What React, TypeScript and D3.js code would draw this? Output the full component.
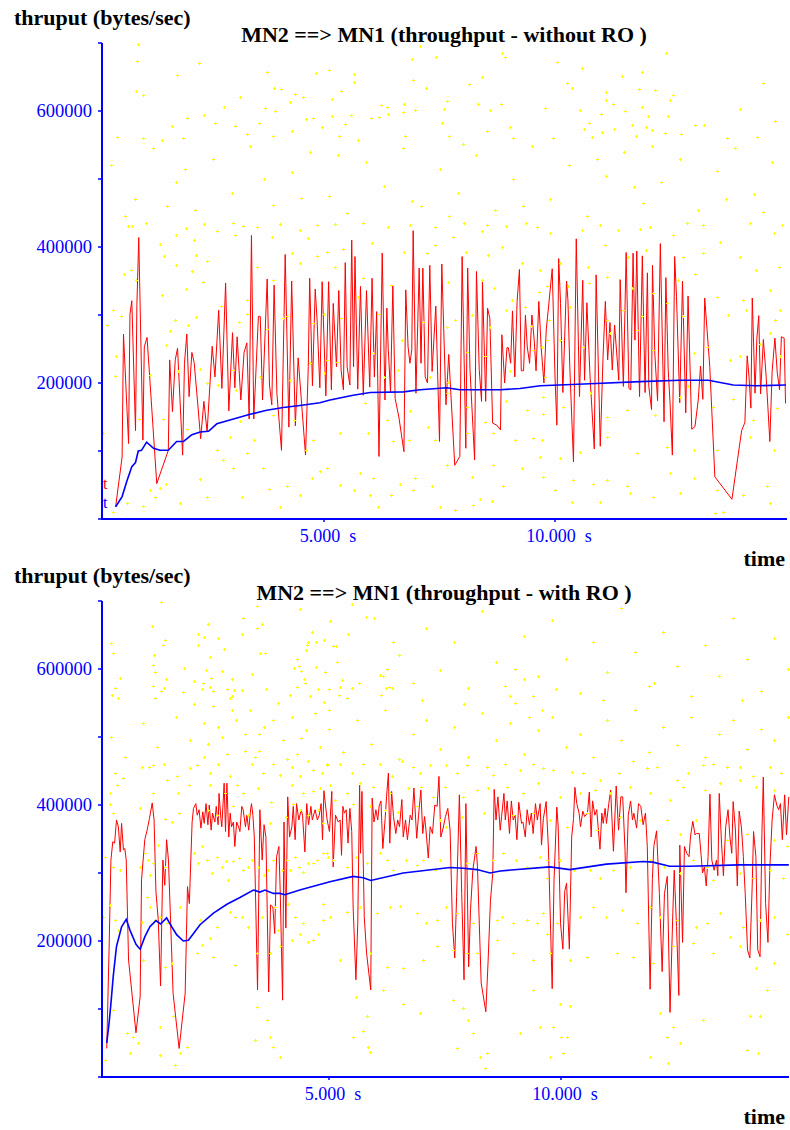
import React from "react";
import * as d3 from "d3";

// all series: [time (s), throughput in thousands of bytes/sec]

// --- without RO ---
const topRed: [number, number][] = [
  [0.49,18],[0.63,91],[0.66,272],[0.77,111],[0.80,301],[0.84,321],[0.92,130],[0.95,314],[0.99,414],[1.08,116],[1.11,253],[1.17,267],[1.38,52],[1.63,101],[1.66,234],[1.72,158],[1.78,234],[1.83,251],[1.94,94],[1.98,229],[2.03,272],[2.08,180],[2.14,245],[2.19,230],[2.26,175],[2.33,118],[2.40,173],[2.47,128],[2.58,254],[2.64,209],[2.72,307],[2.79,192],[2.87,347],[2.94,159],[3.02,274],[3.07,193],[3.12,268],[3.20,175],[3.27,245],[3.33,259],[3.38,147],[3.43,417],[3.48,147],[3.58,298],[3.62,298],[3.67,175],[3.77,353],[3.82,197],[3.87,168],[3.92,344],[3.98,185],[4.08,101],[4.16,389],[4.24,135],[4.30,350],[4.38,137],[4.44,237],[4.60,94],[4.66,224],[4.69,354],[4.75,196],[4.81,338],[4.85,293],[4.91,193],[4.96,349],[5.04,181],[5.10,349],
  [5.16,190],[5.20,317],[5.27,224],[5.32,336],[5.37,219],[5.42,190],[5.46,377],[5.50,224],[5.56,197],[5.60,410],[5.64,224],[5.67,386],[5.73,191],[5.79,342],[5.85,182],[5.92,336],[5.99,194],[6.04,354],[6.09,209],[6.14,305],[6.19,92],[6.26,391],[6.32,175],[6.36,310],[6.39,251],[6.44,187],[6.49,343],[6.54,177],[6.62,150],[6.73,99],[6.77,337],[6.82,253],[6.86,229],[6.90,249],[6.93,424],[6.99,185],[7.06,369],[7.10,229],[7.14,369],[7.19,209],[7.24,200],[7.29,373],[7.34,217],[7.42,313],[7.50,114],[7.55,375],[7.64,168],[7.70,242],[7.83,79],[7.94,92],[7.99,386],[8.07,104],[8.11,369],[8.16,220],[8.26,87],[8.30,364],[8.36,220],[8.41,173],[8.43,350],[8.50,173],[8.54,310],[8.59,295],[8.65,141],[8.74,138],[8.82,131],[8.85,271],[8.91,200],[8.96,252],[8.99,252],[9.04,229],[9.08,306],[9.13,209],[9.18,320],[9.23,367],[9.27,218],[9.32,218],[9.36,300],[9.40,253],[9.45,229],[9.50,300],[9.55,263],[9.59,218],[9.65,320],[9.70,253],[9.76,200],[9.81,278],[9.86,312],
  [9.94,368],[10.00,209],[10.04,138],[10.08,383],[10.12,317],[10.17,186],[10.25,350],[10.28,322],[10.32,224],[10.40,84],[10.46,412],[10.53,180],[10.60,351],[10.64,204],[10.69,318],[10.76,207],[10.85,103],[10.89,359],[10.98,107],[11.04,239],[11.09,320],[11.14,234],[11.19,289],[11.24,219],[11.29,285],[11.38,204],[11.41,352],[11.48,195],[11.54,392],[11.60,192],[11.64,190],[11.69,391],[11.73,263],[11.77,394],[11.83,180],[11.89,387],[11.95,186],[12.00,362],[12.03,195],[12.09,161],[12.11,373],[12.16,244],[12.22,174],[12.28,405],[12.36,143],[12.40,355],[12.45,219],[12.49,171],[12.54,94],[12.59,386],[12.63,327],[12.70,171],[12.76,350],[12.83,156],[12.88,328],[12.96,132],[13.03,136],[13.10,175],[13.15,225],[13.20,176],[13.24,325],[13.35,224],[13.46,62],[13.83,29],[13.95,87],[14.04,130],[14.11,142],[14.16,240],[14.20,209],[14.24,163],[14.27,325],[14.33,185],[14.37,266],[14.41,299],[14.45,184],[14.51,264],[14.57,210],[14.65,114],[14.70,217],[14.76,266],[14.81,216],[14.86,190],[14.90,268],[14.96,266],[14.99,170],
];

const topAvg: [number, number][] = [
  [0.49,18],[0.63,33],[0.73,55],[0.84,77],[0.92,83],[0.98,100],[1.05,101],[1.16,113],[1.31,104],[1.45,101],[1.63,101],[1.81,114],[1.96,114],[2.14,124],[2.32,128],[2.50,129],[2.68,140],[3.04,147],[3.40,154],[3.76,160],[4.12,164],[4.48,167],[4.91,171],[5.13,175],[5.63,182],[6.00,186],[6.72,187],[7.08,190],[7.66,193],[7.94,190],[8.30,190],[8.81,190],[9.24,192],[9.68,196],[10.76,199],[11.84,202],[12.71,204],[13.32,204],[13.86,197],[14.37,196],[15.0,197],
];

const topDots: [number, number][] = [
  [0.98,698],[0.96,674],[2.29,670],[1.81,653],[3.76,658],[4.82,656],[5.11,661],[5.65,654],[5.65,642],[0.93,630],[1.09,624],[3.92,634],[4.07,633],[3.18,621],[4.37,625],[4.55,621],[5.36,630],[5.17,617],[4.26,613],[2.84,606],[3.73,605],[3.93,600],[6.23,609],[6.36,606],[2.40,594],[2.03,590],[4.61,588],[4.77,589],[5.17,592],[5.58,594],[6.01,590],[6.19,591],[6.39,595],[1.72,578],[2.63,582],[3.07,578],[3.59,583],[5.45,581],[4.96,577],[0.51,562],[1.09,560],[1.49,558],[1.95,560],[3.33,566],[3.90,563],[4.30,570],[5.32,563],[5.74,558],
  [7.08,696],[6.90,677],[7.42,680],[8.85,685],[8.92,679],[10.05,672],[10.58,663],[12.40,686],[6.92,646],[7.21,634],[8.14,640],[8.41,650],[10.27,641],[10.37,634],[11.46,651],[11.88,658],[11.82,633],[12.16,631],[12.55,624],[12.48,616],[11.11,628],[11.11,616],[11.26,611],[14.51,641],[6.74,611],[6.72,598],[6.98,601],[7.67,614],[7.59,603],[8.33,611],[8.59,601],[8.83,610],[9.78,605],[10.54,602],[11.00,595],[11.52,600],[11.88,606],[12.01,592],[12.45,593],[14.00,603],[7.56,582],[9.03,577],[10.74,582],[10.62,573],[11.01,569],[11.28,574],[11.66,580],[11.96,576],[12.11,572],[12.38,568],[13.03,580],[13.23,579],[14.76,586],[6.75,563],[7.71,563],[8.53,570],[9.10,561],[9.96,561],[10.81,562],[11.75,563],[12.73,566],[13.72,561],[14.38,562],
  [0.4,520],[0.9,470],[1.3,545],[1.8,495],[2.2,455],[2.6,530],[3.0,480],[3.4,548],[3.9,462],[4.3,510],[4.7,540],[5.1,475],[5.5,450],[5.9,525],[6.3,490],[6.7,545],[7.1,460],[7.5,515],[7.9,480],[8.3,535],[8.7,455],[9.1,500],[9.5,548],[9.9,470],[10.3,520],[10.7,445],[11.1,505],[11.5,540],[11.9,465],[12.3,495],[12.7,530],[13.1,455],[13.5,512],[13.9,545],[14.3,478],[14.7,525],[0.7,445],[2.0,515],[3.7,500],[5.3,535],[6.9,468],[8.0,552],[9.3,460],[10.9,530],[12.1,548],[13.7,470],[14.5,452],[1.6,460],[4.5,472],[7.7,445],[11.7,488],
  [0.84,431],[0.75,431],[1.15,436],[1.46,404],[1.79,417],[2.01,428],[2.19,411],[2.41,434],[2.68,424],[3.07,418],[3.02,435],[3.25,431],[3.54,430],[3.87,415],[4.05,434],[4.48,425],[4.66,413],[4.84,432],[1.54,387],[2.24,388],[2.46,380],[0.67,360],[0.83,366],[0.93,351],[1.49,329],[1.80,373],[2.02,338],[2.14,364],[2.39,349],[3.33,322],[3.54,371],[3.90,351],[4.12,295],[4.30,391],[4.48,377],[4.85,387],[0.44,307],[0.61,298],[0.30,285],[1.77,293],[2.06,286],[1.67,277],[2.24,297],[2.76,313],[3.15,290],[3.33,301],[3.76,280],[4.19,298],[4.77,288],[0.50,240],[0.48,210],[1.23,212],[1.59,256],[1.83,217],[2.32,220],[2.47,200],[2.71,197],[3.04,219],[3.09,189],[3.61,209],[4.26,204],[4.70,229],[4.99,214],[0.22,126],[1.00,147],[1.52,147],[2.03,133],[2.68,102],[2.97,121],[3.18,144],[3.48,116],[3.90,153],[4.34,146],[4.77,116],[1.23,43],[1.34,33],[1.44,45],[1.59,52],[1.88,24],[2.32,59],[2.46,33],[2.82,87],[3.04,75],[3.22,33],[3.69,75],[3.80,44],[4.05,18],[4.19,48],[4.48,35],[4.73,61],[4.91,70],[0.44,10],[0.73,23],[1.09,19],[3.33,97],[4.62,101],
  [5.24,434],[5.85,436],[6.39,430],[6.86,432],[7.40,430],[7.80,415],[8.02,435],[8.52,432],[8.95,431],[9.37,436],[9.60,430],[5.06,393],[5.41,397],[6.03,406],[6.73,392],[7.40,403],[8.07,392],[8.43,424],[8.56,388],[8.85,400],[9.28,376],[9.68,366],[5.24,371],[5.85,354],[6.46,344],[7.22,391],[7.68,349],[8.41,351],[8.67,339],[9.06,322],[9.34,312],[9.66,334],[5.00,302],[5.37,295],[5.74,327],[6.20,302],[6.68,263],[7.15,289],[7.66,283],[7.84,293],[8.20,300],[8.59,283],[8.95,307],[9.47,284],[9.82,263],[5.07,234],[5.29,231],[6.07,244],[6.29,209],[6.61,219],[7.29,209],[7.69,202],[8.09,246],[8.49,239],[9.03,217],[9.53,249],[9.78,209],[5.20,177],[5.89,171],[6.36,146],[6.86,159],[7.26,136],[7.66,185],[8.09,165],[8.49,143],[8.95,173],[9.39,160],[9.73,155],[5.35,126],[5.96,126],[6.50,114],[6.83,116],[7.40,116],[8.09,126],[8.66,126],[9.13,116],[9.53,119],[5.06,75],[5.78,67],[6.07,60],[6.64,52],[6.97,60],[7.33,48],[7.66,79],[8.20,62],[8.66,79],[8.88,48],[9.28,75],[9.68,91],[5.35,50],[5.64,43],[5.99,35],[6.17,18],[6.46,35],[6.93,43],[7.51,18],[7.84,13],[8.23,21],[8.38,30],[8.64,27],
  [9.89,420],[10.58,425],[10.97,432],[11.37,425],[11.84,427],[12.05,430],[12.56,418],[12.85,436],[13.21,432],[13.57,408],[14.22,436],[14.73,420],[14.91,432],[10.11,376],[10.72,371],[11.08,403],[11.59,386],[11.98,396],[12.78,386],[13.21,391],[14.00,386],[14.36,366],[14.84,371],[9.82,342],[10.29,342],[10.74,347],[11.12,356],[11.66,339],[12.13,332],[12.67,351],[13.03,361],[13.50,327],[14.08,322],[14.66,337],[14.86,307],[9.86,293],[10.32,312],[11.12,293],[11.48,307],[11.88,298],[12.42,317],[12.78,298],[13.75,300],[14.13,307],[14.76,293],[14.66,273],[9.71,253],[10.11,263],[10.61,253],[11.19,273],[11.77,278],[12.13,249],[13.00,244],[13.28,253],[13.79,234],[14.00,239],[14.44,258],[14.87,239],[9.75,180],[10.18,165],[10.76,185],[11.12,150],[11.55,160],[12.16,153],[12.70,180],[12.88,195],[13.43,165],[13.86,177],[14.29,146],[14.80,163],[9.71,116],[10.11,89],[10.54,99],[11.12,121],[11.77,97],[12.42,106],[13.00,101],[13.50,101],[14.22,121],[14.73,101],[9.75,62],[10.00,43],[10.40,57],[10.83,52],[11.12,57],[11.55,48],[12.13,33],[12.49,67],[13.00,60],[13.50,43],[14.08,35],[14.58,48],[13.46,9],[13.64,11],[10.36,25],[10.97,25],[11.62,38],[12.70,38],[14.66,23],
];

// --- with RO ---
const botRed: [number, number][] = [
  [0.21,42],[0.26,187],[0.30,319],[0.34,346],[0.38,344],[0.42,378],[0.46,368],[0.50,331],[0.53,373],[0.57,334],[0.60,336],[0.63,319],[0.68,172],[0.84,65],[0.93,118],[0.96,290],[1.03,349],[1.08,363],[1.13,380],[1.19,403],[1.23,378],[1.27,273],[1.32,231],[1.37,134],[1.42,319],[1.46,282],[1.50,349],[1.54,319],[1.64,123],[1.77,42],[1.90,123],[1.95,280],[1.99,255],[2.05,375],[2.08,395],[2.13,402],[2.16,385],[2.20,393],[2.24,366],[2.28,390],[2.31,373],[2.35,402],[2.39,371],[2.42,400],[2.46,363],[2.49,388],[2.54,375],[2.57,398],[2.61,371],[2.63,417],[2.67,380],[2.69,368],[2.74,432],[2.77,361],[2.80,432],[2.84,353],[2.87,388],[2.90,368],[2.94,375],[2.97,339],[3.01,375],[3.05,368],[3.08,361],[3.12,398],[3.15,393],[3.20,368],[3.23,385],[3.27,363],[3.31,393],[3.33,402],[3.36,385],[3.39,353],[3.46,128],[3.51,393],[3.56,319],[3.60,371],[3.64,353],[3.70,125],[3.74,253],[3.79,250],[3.83,211],[3.87,324],[3.92,339],[3.95,270],[4.00,113],[4.03,375],[4.07,219],[4.11,412],[4.15,353],[4.20,368],[4.23,398],[4.27,349],[4.30,402],[4.35,378],[4.40,393],[4.43,385],[4.48,331],[4.52,402],[4.56,371],[4.61,398],[4.64,378],[4.70,393],[4.75,378],[4.79,385],[4.83,402],[4.86,349],[4.89,421],[4.96,378],[5.01,361],
  [5.06,420],[5.09,309],[5.14,385],[5.20,375],[5.24,378],[5.27,326],[5.30,398],[5.33,388],[5.37,393],[5.41,344],[5.45,395],[5.49,361],[5.52,250],[5.58,143],[5.62,226],[5.66,429],[5.68,329],[5.71,420],[5.76,236],[5.81,182],[5.90,128],[5.93,410],[5.97,375],[6.01,393],[6.05,378],[6.08,398],[6.12,406],[6.16,336],[6.21,380],[6.24,412],[6.28,447],[6.31,344],[6.35,420],[6.39,383],[6.44,358],[6.48,378],[6.52,368],[6.57,408],[6.60,353],[6.65,378],[6.69,349],[6.75,385],[6.79,378],[6.83,425],[6.89,351],[6.93,385],[6.98,422],[7.02,358],[7.06,383],[7.09,363],[7.14,322],[7.18,368],[7.23,358],[7.28,400],[7.33,398],[7.37,442],[7.41,353],[7.46,366],[7.51,383],[7.56,395],[7.61,363],[7.66,226],[7.71,175],[7.75,265],[7.81,415],[7.86,270],[7.91,143],[7.95,402],[8.01,162],[8.05,246],[8.10,304],[8.13,319],[8.17,339],[8.20,309],[8.28,138],[8.38,96],[8.43,172],[8.48,260],[8.53,300],[8.56,423],[8.60,378],[8.64,412],[8.69,363],[8.72,383],[8.77,417],[8.80,378],[8.84,406],[8.89,358],[8.93,406],[8.97,378],[9.01,385],[9.05,349],[9.09,404],[9.15,373],[9.18,375],[9.23,353],[9.27,393],[9.32,371],[9.36,388],[9.40,358],[9.45,402],[9.49,378],
  [9.55,402],[9.58,341],[9.62,380],[9.68,405],[9.73,334],[9.81,130],[9.85,290],[9.91,397],[9.94,368],[9.99,226],[10.04,188],[10.08,273],[10.12,285],[10.18,188],[10.23,353],[10.27,380],[10.30,426],[10.34,402],[10.39,388],[10.42,368],[10.47,391],[10.51,383],[10.57,388],[10.61,419],[10.65,353],[10.68,406],[10.73,385],[10.77,393],[10.80,368],[10.84,335],[10.88,388],[10.91,373],[10.95,395],[10.98,373],[11.03,402],[11.07,422],[11.13,332],[11.19,428],[11.24,363],[11.29,412],[11.33,412],[11.38,333],[11.40,271],[11.45,385],[11.50,406],[11.54,378],[11.57,388],[11.63,366],[11.67,402],[11.72,398],[11.77,371],[11.82,388],[11.86,339],[11.92,129],[11.97,292],[12.00,339],[12.06,362],[12.12,270],[12.18,155],[12.23,270],[12.29,295],[12.35,95],[12.41,241],[12.44,304],[12.49,221],[12.54,120],[12.56,341],[12.62,198],[12.66,339],[12.71,329],[12.76,324],[12.79,353],[12.84,376],[12.89,356],[12.92,358],[12.98,358],[13.02,326],[13.05,300],[13.09,309],[13.13,281],[13.17,324],[13.21,416],[13.25,319],[13.30,304],[13.35,319],[13.38,296],[13.41,417],[13.46,344],[13.50,296],[13.55,368],[13.60,393],[13.64,353],[13.68,329],[13.71,405],[13.76,363],[13.80,281],[13.84,391],[13.89,366],[13.93,324],[13.97,270],[14.02,187],[14.07,175],[14.12,280],[14.15,361],[14.20,324],[14.24,187],[14.29,177],[14.33,358],[14.36,441],[14.41,255],[14.46,198],[14.50,307],[14.55,378],[14.60,415],[14.65,400],[14.69,393],[14.73,402],[14.77,349],[14.82,415],[14.86,356],[14.91,412],
];

const botAvg: [number, number][] = [
  [0.21,50],[0.26,79],[0.30,108],[0.35,148],[0.42,192],[0.53,221],[0.63,232],[0.71,216],[0.84,195],[0.93,188],[1.03,206],[1.14,221],[1.27,230],[1.37,225],[1.50,234],[1.61,221],[1.72,209],[1.86,200],[1.97,201],[2.08,211],[2.22,224],[2.51,241],[2.80,254],[3.08,264],[3.37,275],[3.51,272],[3.62,275],[3.80,270],[3.94,270],[4.05,268],[4.37,275],[5.02,287],[5.52,295],[5.74,293],[5.90,289],[6.60,300],[7.61,308],[7.90,307],[8.19,305],[8.47,300],[8.69,303],[9.76,309],[10.19,305],[10.98,313],[11.77,317],[11.98,316],[12.34,310],[12.77,310],[13.84,312],[14.91,312],
];

const botDots: [number, number][] = [
  [1.39,699],[1.19,663],[1.22,621],[1.43,636],[1.47,643],[1.21,606],[1.24,596],[1.20,575],[1.48,585],[1.45,572],[1.39,567],[1.25,558],[0.30,638],[0.35,624],[0.49,587],[0.39,572],[0.32,562],[0.46,558],[1.88,601],[1.86,566],[2.09,582],[2.18,651],[2.31,647],[2.40,666],[2.17,635],[2.43,617],[2.73,630],[2.61,645],[2.35,598],[2.46,587],[2.28,580],[2.27,571],[2.44,574],[2.51,567],[2.69,597],[2.80,571],[2.86,557],[2.92,585],[2.96,569],[3.13,569],[3.12,652],[3.15,675],[3.33,593],[3.45,692],[3.45,660],[3.55,666],[3.51,623],[3.61,623],[3.64,570],[4.37,688],[4.30,614],[4.25,601],[4.35,604],[4.40,597],[4.50,628],[4.55,640],[4.53,635],[4.64,654],[4.72,640],[4.89,643],[5.08,634],[5.15,634],[5.03,670],[5.18,610],[5.42,652],[5.80,677],[5.96,675],[6.39,640],[6.26,600],[6.10,591],[6.16,590],[5.49,695],[4.73,603],[4.91,595],[4.46,585],[4.48,579],[4.76,570],[5.01,571],[5.27,584],[5.24,574],[5.22,562],[5.65,579],[5.49,572],[5.38,558],[6.30,574],[6.23,572],[6.12,562],[6.36,572],[4.30,574],[4.16,562],
  [6.5,620],[6.8,580],[7.1,660],[7.4,598],[7.7,640],[8.0,572],[8.3,685],[8.6,610],[8.9,560],[9.2,648],[9.5,590],[9.8,672],[10.1,615],[10.4,565],[10.7,640],[11.0,595],[11.3,690],[11.6,625],[11.9,575],[12.2,655],[12.5,605],[12.8,560],[13.1,635],[13.4,590],[13.7,675],[14.0,615],[14.3,568],[14.6,645],[14.9,600],[7.0,555],[9.0,600],[12.0,580],[13.9,555],
  [0.3,500],[0.6,470],[1.0,520],[1.3,485],[1.7,530],[2.0,495],[2.3,470],[2.6,515],[2.9,540],[3.2,480],[3.5,505],[3.8,525],[4.1,468],[4.4,498],[4.7,535],[5.0,512],[5.3,478],[5.6,525],[5.9,490],[6.2,540],[6.5,468],[6.8,505],[7.1,525],[7.4,482],[7.7,515],[8.0,470],[8.3,535],[8.6,495],[8.9,520],[9.2,475],[9.5,510],[9.8,530],[10.1,485],[10.4,505],[10.7,470],[11.0,525],[11.3,495],[11.6,540],[11.9,478],[12.2,515],[12.5,488],[12.8,530],[13.1,470],[13.4,505],[13.7,525],[14.0,482],[14.3,512],[14.6,495],[14.9,530],[2.1,548],[4.9,552],[7.9,548],[10.9,555],
  [2.3,520],[2.5,545],[2.7,500],[2.9,560],[3.0,525],[3.2,505],[3.3,540],[3.5,480],[3.6,515],[3.9,550],[4.0,495],[4.2,530],[4.5,510],[4.6,560],[4.8,485],[5.0,540],[2.4,490],[2.8,475],[3.4,470],[4.3,475],[8.8,575],[9.0,550],[9.2,585],[9.4,560],[9.6,540],[9.9,570],[9.3,530],
  [0.39,447],[0.57,439],[0.96,456],[1.11,456],[1.21,459],[1.44,461],[1.72,442],[2.00,454],[2.15,459],[2.44,447],[2.61,461],[2.87,442],[3.33,461],[3.58,447],[3.80,461],[3.94,444],[4.20,456],[4.37,442],[4.55,464],[4.66,451],[4.84,447],[4.95,461],[0.28,417],[0.44,429],[1.50,437],[1.75,417],[1.99,429],[2.44,429],[2.76,417],[3.01,429],[3.15,417],[3.48,425],[3.76,405],[4.20,429],[4.45,417],[4.66,420],[4.81,425],[0.28,402],[0.35,388],[0.93,395],[1.21,417],[1.46,380],[1.61,375],[1.77,388],[2.39,393],[2.58,385],[2.94,398],[3.26,385],[3.73,373],[4.07,383],[4.23,402],[4.37,393],[4.55,385],[4.77,393],[4.88,373],[0.17,324],[0.35,309],[0.50,304],[0.93,309],[1.03,329],[1.09,319],[1.14,297],[1.21,314],[1.32,341],[1.46,309],[2.08,329],[2.18,314],[2.26,339],[2.36,319],[2.47,300],[2.58,324],[2.69,309],[2.78,317],[2.83,290],[2.94,317],[3.07,322],[3.15,304],[3.26,309],[3.35,319],[3.48,309],[3.60,297],[3.69,304],[3.80,319],[3.98,304],[4.09,319],[4.16,304],[4.27,324],[4.36,309],[4.45,302],[4.55,314],[4.66,314],[4.75,319],[4.88,329],[4.98,324],[0.14,236],[0.28,253],[0.39,231],[0.46,216],[0.98,228],[1.07,265],[1.14,250],[1.25,231],[1.36,236],[1.50,226],[1.79,250],[2.22,231],[2.26,194],[2.44,204],[2.58,221],[2.87,243],[2.97,236],[3.12,236],[3.26,221],[3.55,236],[3.84,250],[3.91,216],[4.12,255],[4.27,236],[4.45,226],[4.55,199],[4.66,201],[4.77,211],[4.88,231],[1.00,172],[1.46,162],[1.61,167],[2.15,182],[2.51,177],[2.97,165],[3.44,182],[3.73,182],[3.94,192],[4.20,201],[4.37,211],[0.35,99],[0.64,64],[0.71,35],[0.78,59],[0.89,50],[1.36,74],[1.64,89],[1.79,35],[1.93,44],[1.68,18],[0.17,25],[1.36,32],[3.44,103],[3.66,84],[3.73,59],[3.80,44],[3.94,30],[3.40,54],
  [4.95,459],[5.24,461],[5.49,447],[5.74,461],[6.10,461],[6.35,442],[6.57,464],[6.82,456],[6.96,447],[7.18,459],[7.52,459],[7.75,447],[7.97,459],[8.40,456],[8.54,444],[8.79,461],[9.12,451],[9.40,461],[9.62,454],[5.02,429],[5.38,417],[5.67,432],[5.94,427],[6.31,417],[6.71,425],[6.99,427],[7.25,412],[7.50,427],[7.89,412],[8.18,422],[8.43,425],[8.83,427],[9.19,417],[9.51,432],[5.13,407],[5.52,402],[5.88,398],[6.21,393],[6.49,390],[6.89,398],[7.39,378],[7.53,368],[7.86,383],[8.33,388],[8.97,385],[9.40,388],[5.09,319],[4.95,329],[5.38,309],[5.59,324],[5.81,314],[6.10,329],[6.24,319],[6.39,304],[6.67,319],[6.89,312],[7.03,319],[7.29,304],[7.39,319],[7.68,309],[7.97,314],[8.18,329],[8.54,319],[8.76,329],[9.04,319],[9.26,309],[9.55,324],[9.69,319],[4.88,255],[5.02,236],[5.38,243],[5.67,250],[6.03,241],[6.31,250],[6.53,252],[6.89,241],[7.10,226],[7.32,231],[7.53,250],[7.75,241],[8.11,226],[8.18,182],[8.61,231],[8.72,236],[8.97,226],[9.26,231],[9.48,226],[9.69,211],[5.24,172],[5.88,182],[6.24,162],[6.60,160],[7.03,172],[7.32,192],[7.68,187],[7.97,182],[8.61,201],[8.97,182],[9.40,172],[5.59,118],[5.81,89],[5.52,59],[5.74,67],[5.85,44],[5.88,37],[6.17,128],[6.60,108],[6.96,94],[7.68,113],[7.89,101],[8.00,84],[8.11,64],[8.25,30],[8.36,13],[8.40,35],[7.75,42],[9.40,128],[9.55,74],[9.12,64],
  [9.83,451],[10.23,449],[10.48,447],[10.84,437],[11.24,447],[11.56,464],[11.85,454],[12.06,456],[12.49,437],[12.74,447],[13.07,459],[13.28,461],[13.57,456],[13.86,456],[14.14,442],[14.50,456],[14.75,447],[9.98,412],[10.41,417],[10.73,422],[11.05,417],[11.49,427],[11.92,417],[12.35,407],[12.64,427],[13.10,422],[13.43,432],[13.86,437],[14.21,427],[14.58,422],[9.76,378],[10.12,368],[10.55,388],[10.77,363],[11.27,383],[11.70,378],[12.28,378],[12.56,358],[12.92,378],[13.57,349],[14.00,358],[14.58,349],[14.86,339],[9.69,293],[9.98,319],[10.27,304],[10.63,304],[10.84,293],[11.13,304],[11.49,309],[11.92,319],[12.21,309],[12.56,300],[12.85,319],[13.14,309],[13.28,290],[13.86,300],[14.14,293],[14.50,304],[14.79,293],[9.62,241],[9.91,226],[10.41,236],[10.70,250],[10.98,236],[11.31,245],[11.63,226],[11.92,250],[12.13,236],[12.49,231],[12.92,221],[13.14,226],[13.43,241],[13.64,206],[13.93,221],[14.29,231],[14.58,236],[14.86,211],[9.76,182],[10.19,172],[10.55,177],[11.20,182],[11.56,177],[11.99,167],[12.42,192],[12.85,197],[13.28,182],[13.86,192],[14.21,160],[14.58,167],[9.98,108],[10.19,104],[9.83,74],[9.99,59],[10.12,59],[9.76,30],[10.05,35],[12.13,94],[12.28,59],[12.42,74],[11.92,30],[12.31,20],[12.56,50],[13.07,84],[14.00,40],[14.25,35],[14.43,128],[14.07,89],[14.29,89],
];

const yTicks = [0, 100000, 200000, 300000, 400000, 500000, 600000, 700000];
const yLabelTicks = [200000, 400000, 600000];
const xTicks = [5, 10];

const FONT = "'Liberation Serif', 'Times New Roman', serif";
const BLUE = "#0000ff";

type Pt = [number, number];

function Panel(props: {
  base: number; x0: number; pps: number; axisEnd: number; title: string;
  red: Pt[]; avg: Pt[]; dots: Pt[]; marks?: boolean;
}) {
  const { base, x0, pps, axisEnd, title, red, avg, dots, marks } = props;
  const x = d3.scaleLinear().domain([0, 15]).range([x0, x0 + pps * 15]);
  const y = d3.scaleLinear().domain([0, 700000]).range([base, base - 476]);
  const line = d3.line<Pt>().x(d => x(d[0])).y(d => y(d[1] * 1000));
  const axisX = 102;

  // small "+" markers for the raw samples
  const dotPath = dots
    .map(d => {
      const cx = Math.round(x(d[0])), cy = Math.round(y(d[1] * 1000));
      return `M${cx - 1},${cy}h3v1h-3zM${cx},${cy - 1}h1v3h-1z`;
    })
    .join("");

  return (
    <g>
      <text x={14} y={base - 494} fontFamily={FONT} fontWeight="bold" fontSize={22}>thruput (bytes/sec)</text>
      <text x={444} y={base - 477} fontFamily={FONT} fontWeight="bold" fontSize={22} textAnchor="middle" style={{ whiteSpace: "pre" }}>{title}</text>
      <text x={785} y={base + 47} fontFamily={FONT} fontWeight="bold" fontSize={22} textAnchor="end">time</text>

      <path d={line(red) || ""} fill="none" stroke="#ff0000" strokeWidth={1} />
      <path d={dotPath} fill="#ffff00" shapeRendering="crispEdges" />
      <path d={line(avg) || ""} fill="none" stroke={BLUE} strokeWidth={1.6} />

      {/* y axis */}
      <line x1={axisX} x2={axisX} y1={y(700000)} y2={base + 1} stroke={BLUE} strokeWidth={2} />
      {yTicks.map(t => (
        <line key={t} x1={axisX - 4} x2={axisX} y1={y(t)} y2={y(t)} stroke={BLUE} strokeWidth={1.5} />
      ))}
      {yLabelTicks.map(t => (
        <text key={t} x={92} y={y(t) + 6} textAnchor="end" fontFamily={FONT} fontSize={18.5} fill={BLUE}>{t}</text>
      ))}

      {/* x axis */}
      <line x1={axisX - 1} x2={axisEnd} y1={base} y2={base} stroke={BLUE} strokeWidth={2} />
      {xTicks.map(t => (
        <g key={t}>
          <line x1={x(t)} x2={x(t)} y1={base} y2={base + 3} stroke={BLUE} strokeWidth={1.5} />
          <text x={x(t) + 4} y={base + 23} textAnchor="middle" fontFamily={FONT} fontSize={18} fill={BLUE} style={{ whiteSpace: "pre" }}>{d3.format(".3f")(t) + "  s"}</text>
        </g>
      ))}

      {marks && (
        <g fontFamily={FONT} fontSize={16}>
          <text x={103} y={489} fill="#ff0000">t</text>
          <text x={103} y={508} fill={BLUE}>t</text>
        </g>
      )}
    </g>
  );
}

export default function App() {
  return (
    <div style={{ position: "absolute", left: 0, top: 0 }}>
      <svg width={790} height={1130} style={{ display: "block", background: "#fff" }}>
        <Panel base={519} x0={93} pps={46.2} axisEnd={787} title="MN2 ==> MN1 (throughput - without RO )"
          red={topRed} avg={topAvg} dots={topDots} marks />
        <Panel base={1077} x0={97} pps={46.4} axisEnd={789} title="MN2 ==> MN1 (throughput - with RO )"
          red={botRed} avg={botAvg} dots={botDots} />
      </svg>
    </div>
  );
}
